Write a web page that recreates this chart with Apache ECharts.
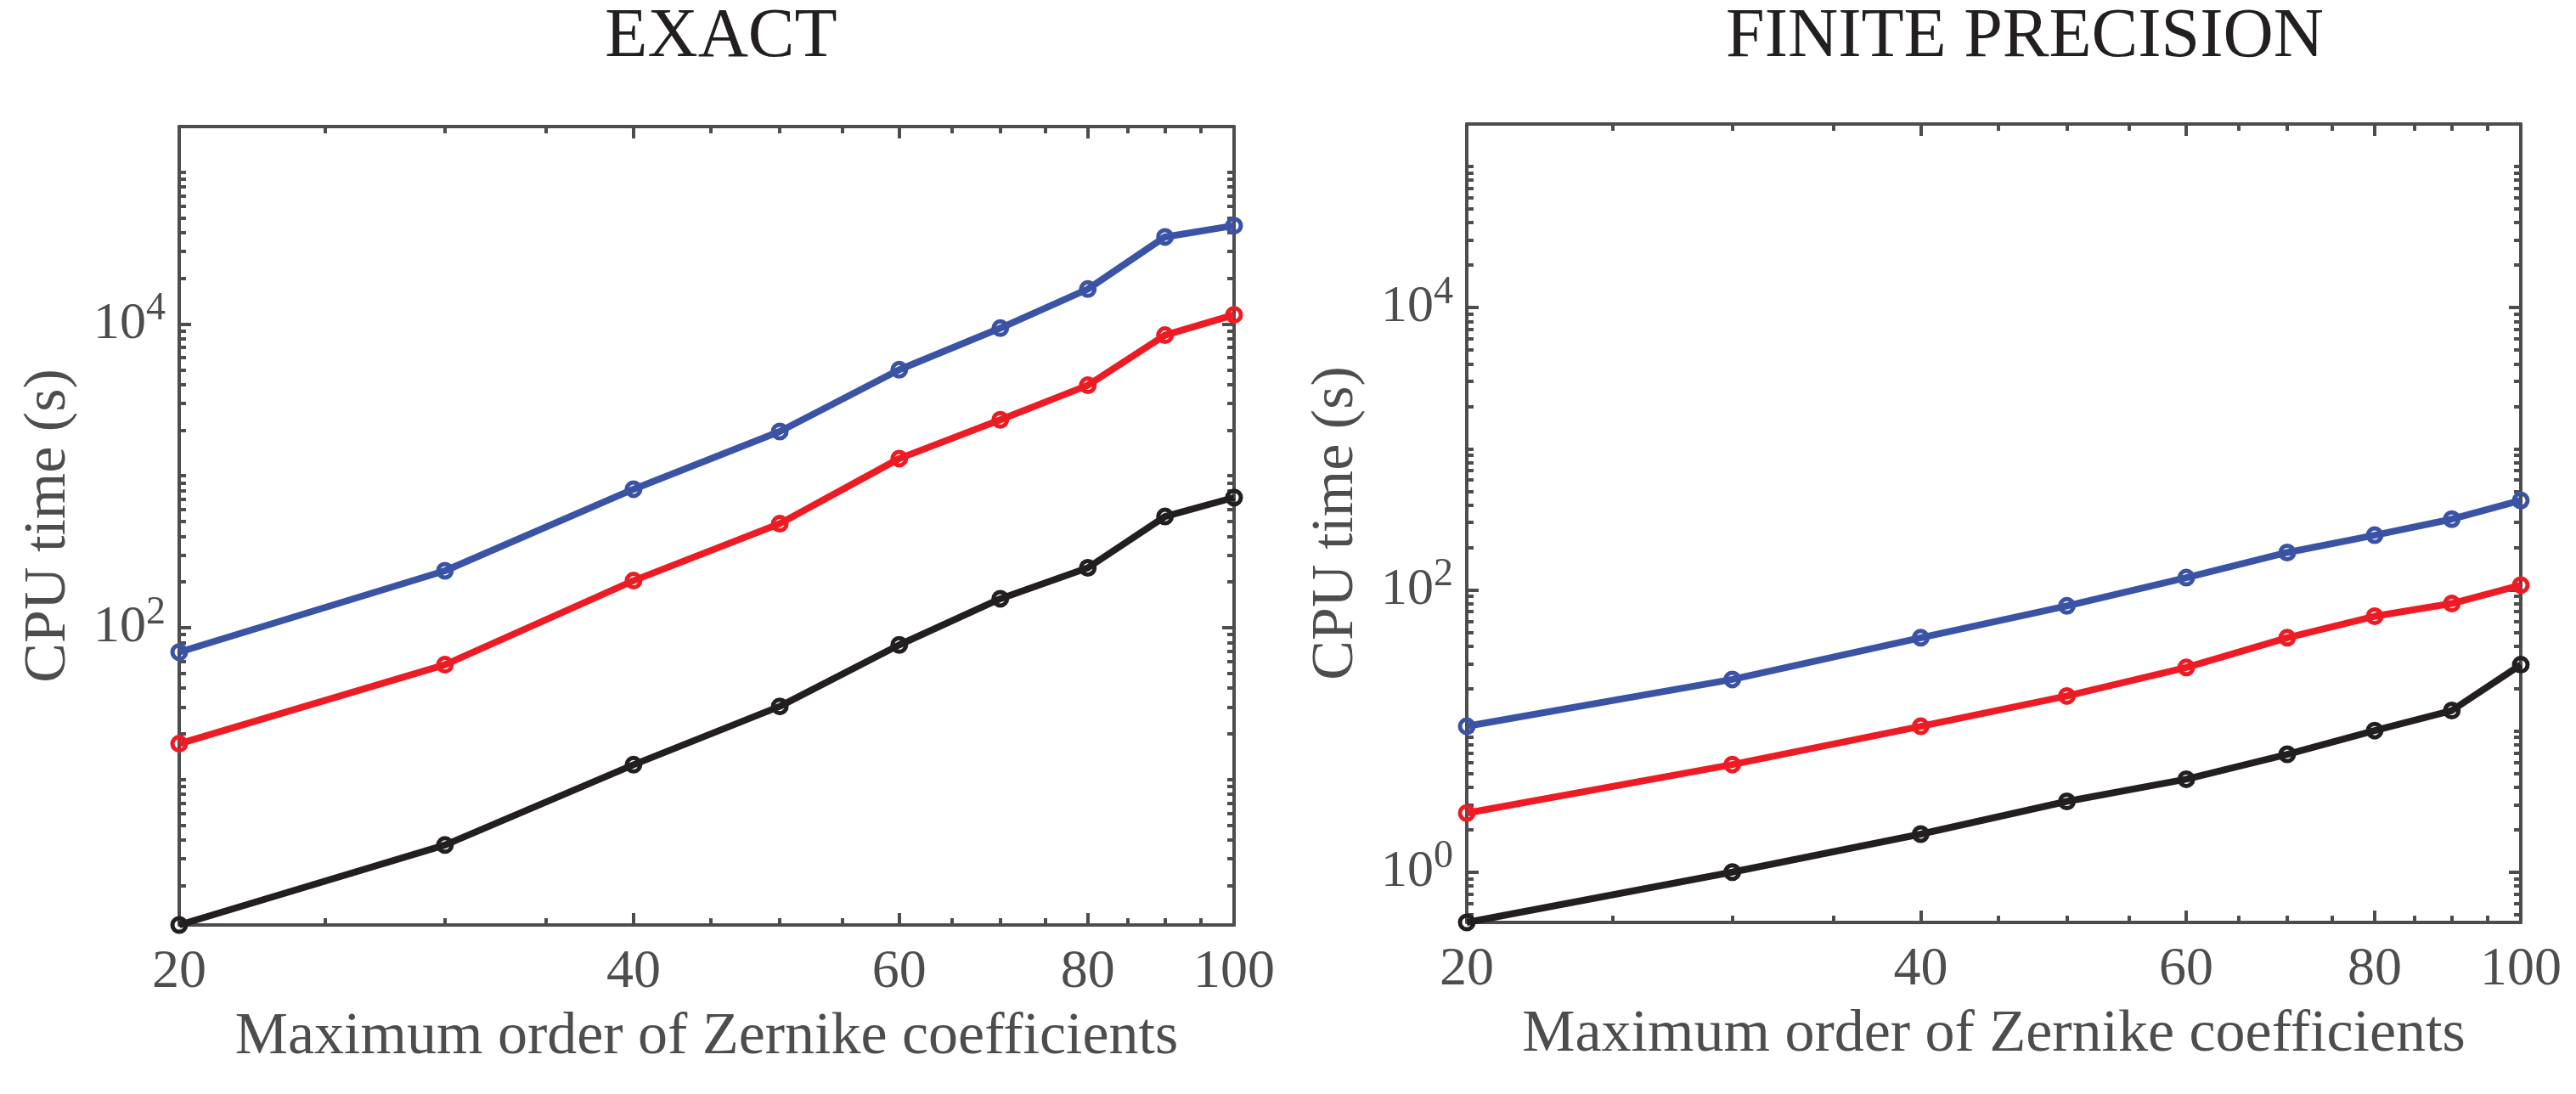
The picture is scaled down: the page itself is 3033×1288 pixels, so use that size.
<!DOCTYPE html>
<html>
<head>
<meta charset="utf-8">
<script src="https://cdn.jsdelivr.net/npm/echarts@6/dist/echarts.min.js"></script>
<style>
  html, body { margin: 0; padding: 0; background: #fff; }
  #main { width: 3033px; height: 1288px; }
</style>
</head>
<body>
<div id="main"></div>
<script>
// maximum order of Zernike coefficients
var orders = [20, 30, 40, 50, 60, 70, 80, 90, 100];

// EXACT panel, CPU time (s)
var exactBlue  = [69, 237, 817, 1960, 5000, 9400, 17000, 37500, 44500];
var exactRed   = [17.2, 57, 204, 484, 1300, 2340, 3950, 8450, 11500];
var exactBlack = [1.1, 3.7, 12.5, 30.3, 77, 155, 248, 540, 720];

// FINITE PRECISION panel, CPU time (s)
var finiteBlue  = [10.8, 23.2, 45.8, 77, 122, 184, 244, 317, 430];
var finiteRed   = [2.62, 5.78, 10.8, 17.7, 28.2, 45.8, 65, 80, 108];
var finiteBlack = [0.44, 1.0, 1.86, 3.17, 4.55, 6.84, 10.06, 13.96, 29.5];

// ticks / labels
var xMajor = [20, 40, 60, 80, 100];
var xMinor = [25, 30, 35, 45, 50, 55, 65, 70, 75, 85, 90, 95];
var yMajor = [1, 100, 10000];
var exactYLabels = [100, 10000];
var finiteYLabels = [1, 100, 10000];

var titles = ['EXACT', 'FINITE PRECISION'];
var xName = 'Maximum order of Zernike coefficients';
var yName = 'CPU time (s)';

var FONT = "'Liberation Serif', 'DejaVu Serif', serif";
var AX = '#4d4d4f';
var BLUE = '#3a53a4', RED = '#ed1c24', BLACK = '#231f20';

function yMinorTicks(lo, hi) {
    var out = [];
    for (var k = -1; k <= 5; k++) {
        for (var m = 1; m <= 9; m++) {
            var v = +(m * Math.pow(10, k)).toPrecision(3);
            if (v >= lo && v <= hi && yMajor.indexOf(v) < 0) out.push(v);
        }
    }
    return out;
}

var grids = [
    { left: 211, top: 149, width: 1242, height: 940 },
    { left: 1727, top: 146, width: 1241, height: 940 }
];
var yMin = [1.1, 0.44];
var yMax = 200000;

var xAxes = [], yAxes = [];

function tick(values, len) {
    return { show: true, inside: true, length: len, customValues: values,
             lineStyle: { color: AX, width: 4 } };
}

grids.forEach(function (g, gi) {
    // bottom major (with labels + name)
    xAxes.push({
        type: 'log', gridIndex: gi, position: 'bottom', min: 20, max: 100,
        axisLine: { show: true, onZero: false, lineStyle: { color: AX, width: 4 } },
        axisTick: tick(xMajor, 14),
        axisLabel: { show: true, customValues: xMajor, margin: 24, fontSize: 64,
                     fontFamily: FONT, color: AX },
        splitLine: { show: false },
        name: xName, nameLocation: 'middle', nameGap: 98,
        nameTextStyle: { fontSize: 70, fontFamily: FONT, color: AX }
    });
    xAxes.push({
        type: 'log', gridIndex: gi, position: 'bottom', min: 20, max: 100,
        axisLine: { show: false, onZero: false },
        axisTick: tick(xMinor, 8), axisLabel: { show: false }, splitLine: { show: false }
    });
    xAxes.push({
        type: 'log', gridIndex: gi, position: 'top', min: 20, max: 100,
        axisLine: { show: true, onZero: false, lineStyle: { color: AX, width: 4 } },
        axisTick: tick(xMajor, 14), axisLabel: { show: false }, splitLine: { show: false }
    });
    xAxes.push({
        type: 'log', gridIndex: gi, position: 'top', min: 20, max: 100,
        axisLine: { show: false, onZero: false },
        axisTick: tick(xMinor, 8), axisLabel: { show: false }, splitLine: { show: false }
    });

    var minors = yMinorTicks(yMin[gi], yMax);
    yAxes.push({
        type: 'log', gridIndex: gi, position: 'left', min: yMin[gi], max: yMax,
        axisLine: { show: true, onZero: false, lineStyle: { color: AX, width: 4 } },
        axisTick: tick(yMajor, 14),
        axisLabel: {
            show: true, margin: 16,
            customValues: gi === 0 ? exactYLabels : finiteYLabels,
            formatter: function (v) {
                return '{b|10}{s|' + Math.round(Math.log10(v)) + '}';
            },
            rich: {
                b: { fontSize: 62, lineHeight: 62, fontFamily: FONT, color: AX, verticalAlign: 'bottom' },
                s: { fontSize: 46, lineHeight: 46, fontFamily: FONT, color: AX, padding: [0, 0, 35, 0] }
            }
        },
        splitLine: { show: false },
        name: yName, nameLocation: 'middle', nameGap: 118,
        nameTextStyle: { fontSize: 70, fontFamily: FONT, color: AX }
    });
    yAxes.push({
        type: 'log', gridIndex: gi, position: 'left', min: yMin[gi], max: yMax,
        axisLine: { show: false, onZero: false },
        axisTick: tick(minors, 8), axisLabel: { show: false }, splitLine: { show: false }
    });
    yAxes.push({
        type: 'log', gridIndex: gi, position: 'right', min: yMin[gi], max: yMax,
        axisLine: { show: true, onZero: false, lineStyle: { color: AX, width: 4 } },
        axisTick: tick(yMajor, 14), axisLabel: { show: false }, splitLine: { show: false }
    });
    yAxes.push({
        type: 'log', gridIndex: gi, position: 'right', min: yMin[gi], max: yMax,
        axisLine: { show: false, onZero: false },
        axisTick: tick(minors, 8), axisLabel: { show: false }, splitLine: { show: false }
    });
});

function line(vals, color, gi) {
    return {
        type: 'line', xAxisIndex: gi * 4, yAxisIndex: gi * 4,
        data: orders.map(function (x, i) { return [x, vals[i]]; }),
        symbol: 'circle', symbolSize: 16, clip: false,
        lineStyle: { color: color, width: 8 },
        itemStyle: { color: 'rgba(0,0,0,0)', borderColor: color, borderWidth: 5 },
        emphasis: { disabled: true },
        animation: false
    };
}

var option = {
    backgroundColor: '#fff',
    animation: false,
    grid: grids,
    xAxis: xAxes,
    yAxis: yAxes,
    graphic: [
        { type: 'text', x: 849, y: 44, style: { text: titles[0], fontSize: 82, fontFamily: FONT,
          fill: BLACK, align: 'center', verticalAlign: 'middle' } },
        { type: 'text', x: 2384, y: 44, style: { text: titles[1], fontSize: 82, fontFamily: FONT,
          fill: BLACK, align: 'center', verticalAlign: 'middle' } }
    ],
    series: [
        line(exactBlue, BLUE, 0), line(exactRed, RED, 0), line(exactBlack, BLACK, 0),
        line(finiteBlue, BLUE, 1), line(finiteRed, RED, 1), line(finiteBlack, BLACK, 1)
    ]
};

echarts.init(document.getElementById('main')).setOption(option);
</script>
</body>
</html>
